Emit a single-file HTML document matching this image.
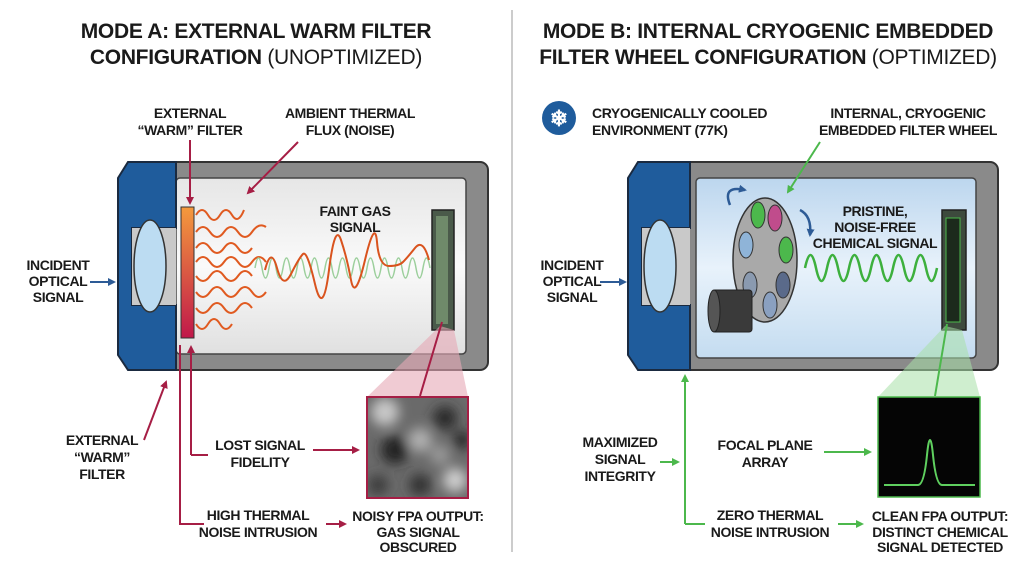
<!DOCTYPE html>
<html><head><meta charset="utf-8"><style>
body{margin:0;width:1024px;height:572px;background:#fff;overflow:hidden}
svg text{font-family:"Liberation Sans",sans-serif;font-weight:bold;fill:#1a1a1a}
.l{font-size:14px;letter-spacing:-0.4px}
.t{font-size:21px;letter-spacing:-0.3px}
.tn{font-weight:normal}
</style></head><body>
<svg width="1024" height="572" viewBox="0 0 1024 572">
<defs>
<linearGradient id="flt" x1="0" y1="0" x2="0" y2="1"><stop offset="0" stop-color="#f49a3c"/><stop offset="1" stop-color="#c0184a"/></linearGradient>
<linearGradient id="ch" x1="0" y1="0" x2="0" y2="1"><stop offset="0" stop-color="#e6e6e6"/><stop offset=".5" stop-color="#fafafa"/><stop offset="1" stop-color="#e0e0e0"/></linearGradient>
<linearGradient id="chb" x1="0" y1="0" x2="0" y2="1"><stop offset="0" stop-color="#bcd6ee"/><stop offset=".5" stop-color="#e8f2fb"/><stop offset="1" stop-color="#c4dcf0"/></linearGradient>
<filter id="bl" x="-10%" y="-10%" width="120%" height="120%"><feGaussianBlur stdDeviation="6"/></filter>
<clipPath id="nc"><rect x="367" y="397" width="101" height="101"/></clipPath>
<marker id="ar" markerWidth="8" markerHeight="8" refX="6" refY="4" orient="auto" markerUnits="userSpaceOnUse"><path d="M0,0 L8,4 L0,8z" fill="#a61e45"/></marker>
<marker id="ag" markerWidth="8" markerHeight="8" refX="6" refY="4" orient="auto" markerUnits="userSpaceOnUse"><path d="M0,0 L8,4 L0,8z" fill="#4cb84c"/></marker>
<marker id="ab" markerWidth="8" markerHeight="8" refX="6" refY="4" orient="auto" markerUnits="userSpaceOnUse"><path d="M0,0 L8,4 L0,8z" fill="#2d5b96"/></marker>
</defs>
<line x1="512" y1="10" x2="512" y2="552" stroke="#bbb" stroke-width="1.5"/>
<text class="t" x="256" y="38" text-anchor="middle">MODE A: EXTERNAL WARM FILTER</text>
<text class="t" x="256" y="64" text-anchor="middle">CONFIGURATION <tspan class="tn">(UNOPTIMIZED)</tspan></text>
<text class="t" x="768" y="38" text-anchor="middle">MODE B: INTERNAL CRYOGENIC EMBEDDED</text>
<text class="t" x="768" y="64" text-anchor="middle">FILTER WHEEL CONFIGURATION <tspan class="tn">(OPTIMIZED)</tspan></text>

<g>
<rect x="160" y="162" width="328" height="208" rx="8" fill="#8a8a8a" stroke="#333" stroke-width="2"/>
<rect x="176" y="178" width="290" height="176" rx="4" fill="url(#ch)" stroke="#444" stroke-width="1.5"/>
<path d="M118,178 L128,162 L176,162 L176,228 L132,228 L132,305 L176,305 L176,370 L128,370 L118,355z" fill="#1f5c9c" stroke="#1a2a40" stroke-width="2"/>
<rect x="132" y="228" width="44" height="77" fill="#c9c9c9"/>
<ellipse cx="150" cy="266" rx="16" ry="46" fill="#bcdcf2" stroke="#333" stroke-width="1.5"/>
<rect x="181" y="207" width="13" height="131" fill="url(#flt)" stroke="#333"/>
<g fill="none" stroke="#e05a20" stroke-width="2">
<path d="M196,215 q6,-10 12,0 t12,0 t12,0 t12,-5"/>
<path d="M196,232 q7,-10 14,0 t14,0 t14,0 t14,0 t14,-5"/>
<path d="M196,248 q7,-10 14,0 t14,0 t14,0 t14,0"/>
<path d="M196,262 q7,-10 14,0 t14,0 t14,0 t14,0 t14,0"/>
<path d="M196,276 q7,10 14,0 t14,0 t14,0 t14,0"/>
<path d="M196,292 q7,10 14,0 t14,0 t14,0 t14,0 t14,0"/>
<path d="M196,308 q7,10 14,0 t14,0 t14,0 t14,0"/>
<path d="M196,324 q6,10 12,0 t12,0 t12,0"/>
</g>
<path d="M255,268 q3.5,-20 7,0 t7,0 t7,0 t7,0 t7,0 t7,0 t7,0 t7,0 t7,0 t7,0 t7,0 t7,0 t7,0 t7,0 t7,0 t7,0 t7,0 t7,0 t7,0 t7,0 t7,0 t7,0 t7,0 t7,0 t7,0" fill="none" stroke="#9ccf9c" stroke-width="1.5"/>
<path d="M265,270 q6,-24 12,-2 t14,6 t12,-20 t12,30 t14,-14 t12,-30 t10,40 t14,-20 t12,-18 t12,24 t14,-4 t12,-14 t14,12" fill="none" stroke="#d9531e" stroke-width="2"/>
<rect x="432" y="210" width="22" height="120" fill="#4a5a4a" stroke="#222" stroke-width="1.5"/>
<rect x="436" y="216" width="12" height="108" fill="#6f8a6a"/>
</g>
<path d="M440,326 L454,330 L468,397 L367,397z" fill="#e6a8b6" opacity=".6"/>
<rect x="367" y="397" width="101" height="101" fill="#6a6a6a"/>
<g clip-path="url(#nc)"><g filter="url(#bl)">
<circle cx="385" cy="412" r="14" fill="#c8c8c8"/><circle cx="420" cy="440" r="12" fill="#b0b0b0"/><circle cx="455" cy="480" r="12" fill="#cfcfcf"/>
<circle cx="395" cy="450" r="14" fill="#222"/><circle cx="445" cy="418" r="12" fill="#2a2a2a"/><circle cx="420" cy="485" r="11" fill="#333"/>
<circle cx="440" cy="455" r="10" fill="#9a9a9a"/><circle cx="378" cy="485" r="10" fill="#3a3a3a"/><circle cx="462" cy="440" r="9" fill="#252525"/>
</g></g>
<rect x="367" y="397" width="101" height="101" fill="none" stroke="#a61e45" stroke-width="2"/>

<g class="l" text-anchor="middle">
<text x="190" y="118">EXTERNAL</text><text x="190" y="135">“WARM” FILTER</text>
<text x="350" y="118">AMBIENT THERMAL</text><text x="350" y="135">FLUX (NOISE)</text>
<text x="355" y="216">FAINT GAS</text><text x="355" y="232">SIGNAL</text>
<text x="58" y="270">INCIDENT</text><text x="58" y="286">OPTICAL</text><text x="58" y="302">SIGNAL</text>
<text x="102" y="445">EXTERNAL</text><text x="102" y="462">“WARM”</text><text x="102" y="479">FILTER</text>
<text x="260" y="450">LOST SIGNAL</text><text x="260" y="467">FIDELITY</text>
<text x="258" y="520">HIGH THERMAL</text><text x="258" y="537">NOISE INTRUSION</text>
<text x="418" y="521">NOISY FPA OUTPUT:</text><text x="418" y="537">GAS SIGNAL</text><text x="418" y="552">OBSCURED</text>
</g>
<g stroke="#a61e45" stroke-width="2" fill="none">
<line x1="190" y1="140" x2="190" y2="203" marker-end="url(#ar)"/>
<line x1="298" y1="142" x2="248" y2="193" marker-end="url(#ar)"/>
<line x1="144" y1="440" x2="166" y2="382" marker-end="url(#ar)"/>
<path d="M191,455 L191,347" marker-end="url(#ar)"/>
<path d="M191,455 L208,455"/>
<line x1="313" y1="450" x2="358" y2="450" marker-end="url(#ar)"/>
<path d="M180,345 L180,524 L204,524"/>
<line x1="326" y1="524" x2="345" y2="524" marker-end="url(#ar)"/>
<line x1="442" y1="322" x2="420" y2="396"/>
</g>
<line x1="90" y1="282" x2="114" y2="282" stroke="#2d5b96" stroke-width="2" marker-end="url(#ab)"/>

<g>
<rect x="670" y="162" width="328" height="208" rx="8" fill="#8a8a8a" stroke="#333" stroke-width="2"/>
<rect x="696" y="178" width="280" height="180" rx="4" fill="url(#chb)" stroke="#444" stroke-width="1.5"/>
<path d="M628,178 L638,162 L690,162 L690,228 L642,228 L642,305 L690,305 L690,370 L638,370 L628,355z" fill="#1f5c9c" stroke="#1a2a40" stroke-width="2"/>
<rect x="642" y="228" width="48" height="77" fill="#c9c9c9"/>
<ellipse cx="660" cy="266" rx="16" ry="46" fill="#bcdcf2" stroke="#333" stroke-width="1.5"/>
<ellipse cx="765" cy="260" rx="32" ry="62" fill="#a9a9a9" stroke="#333" stroke-width="1.5"/>
<g stroke="#333">
<ellipse cx="758" cy="215" rx="7" ry="13" fill="#4cb84c"/><ellipse cx="775" cy="218" rx="7" ry="13" fill="#c04c8c"/>
<ellipse cx="786" cy="250" rx="7" ry="13" fill="#4cb84c"/><ellipse cx="746" cy="245" rx="7" ry="13" fill="#8fb4d8"/>
<ellipse cx="783" cy="285" rx="7" ry="13" fill="#5a6a8a"/><ellipse cx="770" cy="305" rx="7" ry="13" fill="#8aa0c0"/>
<ellipse cx="750" cy="285" rx="7" ry="13" fill="#8a9ab0"/>
</g>
<rect x="712" y="290" width="40" height="42" rx="3" fill="#3a3a3a" stroke="#222"/>
<ellipse cx="714" cy="311" rx="6" ry="21" fill="#555" stroke="#222"/>
<path d="M730,205 q-8,-20 15,-15" fill="none" stroke="#2d5b96" stroke-width="2.5" marker-end="url(#ab)"/>
<path d="M800,210 q12,6 10,25" fill="none" stroke="#2d5b96" stroke-width="2.5" marker-end="url(#ab)"/>
<path d="M805,268 q5.5,-26 11,0 t11,0 t11,0 t11,0 t11,0 t11,0 t11,0 t11,0 t11,0 t11,0 t11,0 t11,0" fill="none" stroke="#3db03d" stroke-width="2.5"/>
<rect x="942" y="210" width="24" height="120" fill="#3d4a3d" stroke="#222" stroke-width="1.5"/>
<rect x="946" y="218" width="14" height="104" fill="#1c2a1c" stroke="#4cb84c"/>
</g>
<path d="M945,326 L962,330 L980,397 L878,397z" fill="#a8e0a8" opacity=".55"/>
<rect x="878" y="397" width="102" height="100" fill="#050505" stroke="#4cb84c" stroke-width="1.5"/>
<path d="M884,485 L918,485 q6,0 9,-30 q3,-30 6,0 q3,30 9,30 L975,485" fill="none" stroke="#5fd05f" stroke-width="2"/>

<circle cx="559" cy="118" r="17" fill="#1f5c9c"/>
<text x="559" y="126" text-anchor="middle" style="font-size:22px;fill:#fff">❄</text>
<g class="l">
<text x="592" y="118">CRYOGENICALLY COOLED</text><text x="592" y="135">ENVIRONMENT (77K)</text>
</g>
<g class="l" text-anchor="middle">
<text x="908" y="118">INTERNAL, CRYOGENIC</text><text x="908" y="135">EMBEDDED FILTER WHEEL</text>
<text x="875" y="216">PRISTINE,</text><text x="875" y="232">NOISE-FREE</text><text x="875" y="248">CHEMICAL SIGNAL</text>
<text x="572" y="270">INCIDENT</text><text x="572" y="286">OPTICAL</text><text x="572" y="302">SIGNAL</text>
<text x="620" y="447">MAXIMIZED</text><text x="620" y="464">SIGNAL</text><text x="620" y="481">INTEGRITY</text>
<text x="765" y="450">FOCAL PLANE</text><text x="765" y="467">ARRAY</text>
<text x="770" y="520">ZERO THERMAL</text><text x="770" y="537">NOISE INTRUSION</text>
<text x="940" y="521">CLEAN FPA OUTPUT:</text><text x="940" y="537">DISTINCT CHEMICAL</text><text x="940" y="552">SIGNAL DETECTED</text>
</g>
<g stroke="#4cb84c" stroke-width="2" fill="none">
<line x1="820" y1="142" x2="788" y2="192" marker-end="url(#ag)"/>
<path d="M685,524 L685,376" marker-end="url(#ag)"/>
<path d="M685,524 L705,524"/>
<line x1="660" y1="462" x2="678" y2="462" marker-end="url(#ag)"/>
<line x1="824" y1="452" x2="870" y2="452" marker-end="url(#ag)"/>
<line x1="838" y1="524" x2="862" y2="524" marker-end="url(#ag)"/>
<line x1="947" y1="324" x2="935" y2="396"/>
</g>
<line x1="600" y1="282" x2="625" y2="282" stroke="#2d5b96" stroke-width="2" marker-end="url(#ab)"/>
</svg>
</body></html>
